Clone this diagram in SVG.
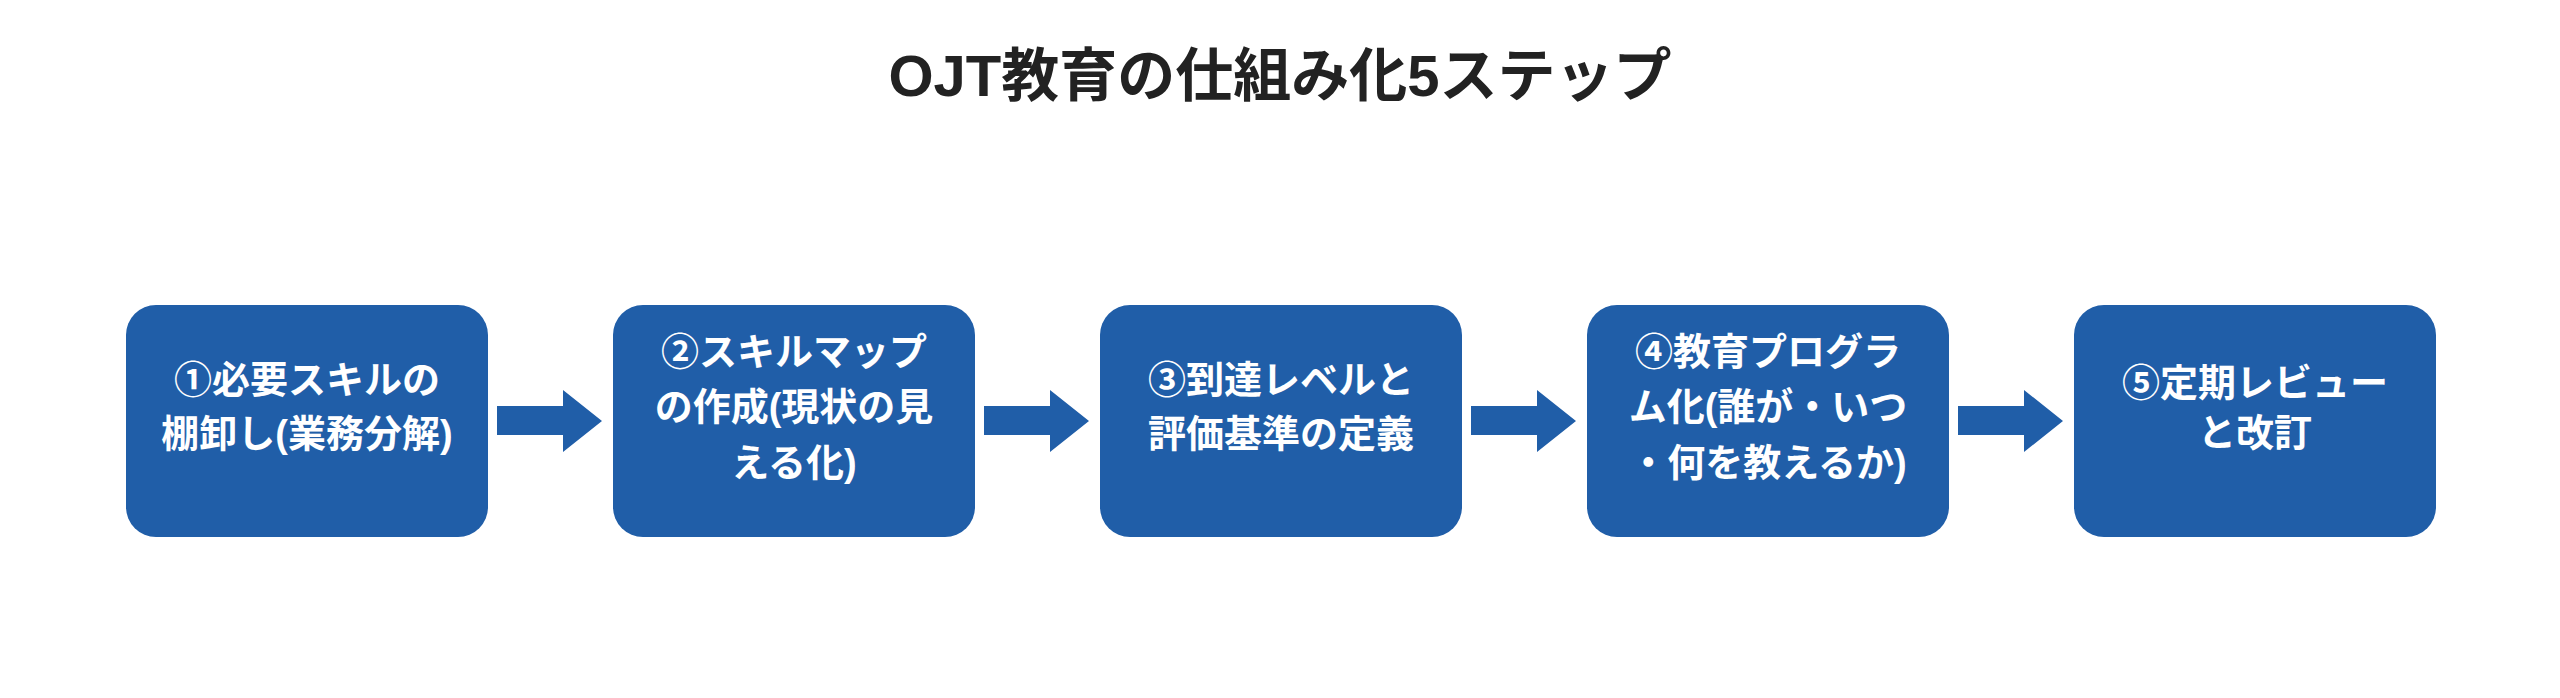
<svg xmlns="http://www.w3.org/2000/svg" width="2560" height="698" viewBox="0 0 2560 698">
<style>
.box{fill:#205ea8}
.t{font-family:"Liberation Sans","Noto Sans CJK JP",sans-serif;font-weight:bold;fill:#fff;font-size:38px;text-anchor:middle;dominant-baseline:central}
.title{font-family:"Liberation Sans","Noto Sans CJK JP",sans-serif;font-weight:bold;fill:#222;font-size:58px;text-anchor:middle;dominant-baseline:central}
.arr{fill:#205ea8}
</style>
<rect width="2560" height="698" fill="#fff"/>
<text class="title" x="1280" y="75">OJT教育の仕組み化5ステップ</text>
<g id="connectors">
<polygon class="arr" points="497,406 563,406 563,390 602,421 563,452 563,435 497,435"/>
<polygon class="arr" points="984,406 1050,406 1050,390 1089,421 1050,452 1050,435 984,435"/>
<polygon class="arr" points="1471,406 1537,406 1537,390 1576,421 1537,452 1537,435 1471,435"/>
<polygon class="arr" points="1958,406 2024,406 2024,390 2063,421 2024,452 2024,435 1958,435"/>
</g>
<g id="step1"><rect class="box" x="126" y="305" width="362" height="232" rx="30"/>
<text class="t" x="307" y="380">①必要スキルの</text><text class="t" x="307" y="434">棚卸し(業務分解)</text></g>
<g id="step2"><rect class="box" x="613" y="305" width="362" height="232" rx="30"/>
<text class="t" x="794" y="352">②スキルマップ</text><text class="t" x="794" y="407">の作成(現状の見</text><text class="t" x="794" y="463">える化)</text></g>
<g id="step3"><rect class="box" x="1100" y="305" width="362" height="232" rx="30"/>
<text class="t" x="1281" y="380">③到達レベルと</text><text class="t" x="1281" y="434">評価基準の定義</text></g>
<g id="step4"><rect class="box" x="1587" y="305" width="362" height="232" rx="30"/>
<text class="t" x="1768" y="352">④教育プログラ</text><text class="t" x="1768" y="407">ム化(誰が・いつ</text><text class="t" x="1768" y="463">・何を教えるか)</text></g>
<g id="step5"><rect class="box" x="2074" y="305" width="362" height="232" rx="30"/>
<text class="t" x="2255" y="383">⑤定期レビュー</text><text class="t" x="2255" y="433">と改訂</text></g>
</svg>
